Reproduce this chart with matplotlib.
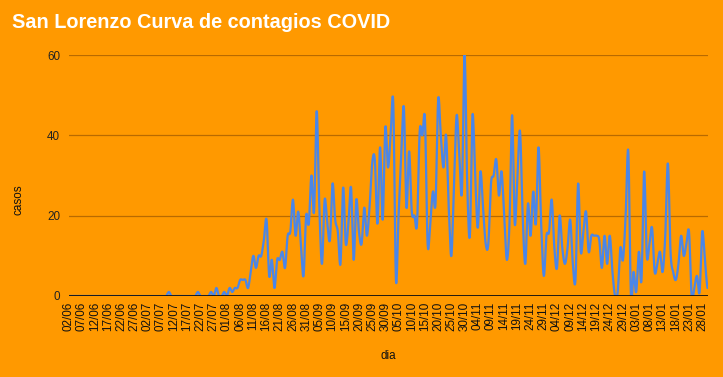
import numpy as np
import matplotlib
matplotlib.use("Agg")
import matplotlib.pyplot as plt

plt.rcParams['font.family'] = ['Liberation Sans', 'DejaVu Sans']

title = "San Lorenzo Curva de contagios COVID"
x_label = "dia"
y_label = "casos"

tick_labels = ["02/06", "07/06", "12/06", "17/06", "22/06", "27/06", "02/07", "07/07",
               "12/07", "17/07", "22/07", "27/07", "01/08", "06/08", "11/08", "16/08",
               "21/08", "26/08", "31/08", "05/09", "10/09", "15/09", "20/09", "25/09",
               "30/09", "05/10", "10/10", "15/10", "20/10", "25/10", "30/10", "04/11",
               "09/11", "14/11", "19/11", "24/11", "29/11", "04/12", "09/12", "14/12",
               "19/12", "24/12", "29/12", "03/01", "08/01", "13/01", "18/01", "23/01",
               "28/01"]

# daily cases from 02/06 to 30/01
casos = [
    0, 0, 0, 0, 0, 0, 0, 0, 0, 0, 0, 0, 0, 0, 0, 0, 0, 0, 0, 0,
    0, 0, 0, 0, 0, 0, 0, 0, 0, 0, 0, 0, 0, 0, 0, 0, 0, 0, 1, 0,
    0, 0, 0, 0, 0, 0, 0, 0, 0, 1, 0, 0, 0, 0, 1, 0, 2, 0, 0, 1,
    0, 2, 1, 2, 2, 4, 4, 4, 2, 6, 10, 7, 10, 10, 14, 19, 5, 9, 2, 9,
    9, 11, 7, 15, 16, 24, 15, 21, 13, 5, 20, 18, 30, 21, 46, 22, 8, 24, 18, 14,
    28, 19, 16, 8, 27, 13, 18, 27, 9, 24, 16, 13, 22, 15, 22, 33, 34, 18, 37, 19,
    42, 32, 40, 48, 4, 20, 35, 47, 22, 36, 21, 20, 18, 41, 40, 44, 13, 18, 26, 23,
    49, 40, 32, 40, 22, 10, 28, 45, 35, 26, 60, 28, 15, 45, 30, 17, 31, 22, 13, 13,
    28, 30, 34, 25, 31, 20, 9, 18, 45, 18, 30, 41, 20, 8, 23, 15, 26, 18, 37, 18,
    5, 15, 16, 24, 12, 7, 20, 12, 8, 12, 19, 8, 4, 28, 11, 16, 21, 11, 15, 15,
    15, 14, 7, 15, 8, 15, 6, 0, 1, 12, 9, 20, 36, 0, 6, 1, 11, 4, 31, 10,
    13, 17, 6, 8, 11, 6, 15, 33, 11, 6, 4, 8, 15, 10, 13, 16, 0, 2, 5, 1,
    16, 9, 2,
]

y = np.array(casos, dtype=float)
n = len(y)

# Catmull-Rom smoothing for rendering the "smooth" line
sub = 12
xs, ys = [], []
for i in range(n - 1):
    p0 = y[i - 1] if i > 0 else y[i]
    p1 = y[i]
    p2 = y[i + 1]
    p3 = y[i + 2] if i + 2 < n else y[i + 1]
    m1 = (p2 - p0) / 2.0
    m2 = (p3 - p1) / 2.0
    t = np.linspace(0, 1, sub, endpoint=False)
    h00 = 2 * t**3 - 3 * t**2 + 1
    h10 = t**3 - 2 * t**2 + t
    h01 = -2 * t**3 + 3 * t**2
    h11 = t**3 - t**2
    xs.append(i + t)
    ys.append(h00 * p1 + h10 * m1 + h01 * p2 + h11 * m2)
xs.append(np.array([n - 1]))
ys.append(np.array([y[-1]]))
xs = np.concatenate(xs)
ys = np.concatenate(ys)

bg = "#FF9900"
fig = plt.figure(figsize=(7.23, 3.77), dpi=100, facecolor=bg)
ax = fig.add_axes([68.5 / 723, 1 - 296 / 377, (707.5 - 68.5) / 723, (296 - 55) / 377])
ax.set_facecolor(bg)

ax.plot(xs, ys, color="#4A86E8", lw=1.6, solid_capstyle="round", zorder=3)

ax.set_xlim(0, n - 1)
ax.set_ylim(0, 60)
ax.set_yticks([0, 20, 40, 60])
ax.grid(axis="y", color="#B86A00", lw=0.9, zorder=1)
ax.axhline(0, color="#111111", lw=1.3, zorder=4)

ax.set_xticks(np.arange(0, len(tick_labels) * 5, 5))
ax.set_xticklabels(tick_labels, rotation=90, fontsize=8.4, color="#111111")
ax.tick_params(axis="x", length=0, pad=4)
ax.tick_params(axis="y", length=0, pad=6, labelsize=8.4, labelcolor="#222222")
for s in ax.spines.values():
    s.set_visible(False)

fig.text(12.5 / 723, 1 - 23 / 377, title, fontsize=14.3, fontweight="bold",
         color="white", va="center", ha="left")
fig.text(18 / 723, 1 - 200 / 377, y_label, rotation=90, fontsize=8.4,
         color="#111111", va="center", ha="center")
fig.text(388 / 723, 1 - 356 / 377, x_label, fontsize=8.4,
         color="#111111", va="center", ha="center")

fig.savefig("out.png", dpi=100, facecolor=bg)
